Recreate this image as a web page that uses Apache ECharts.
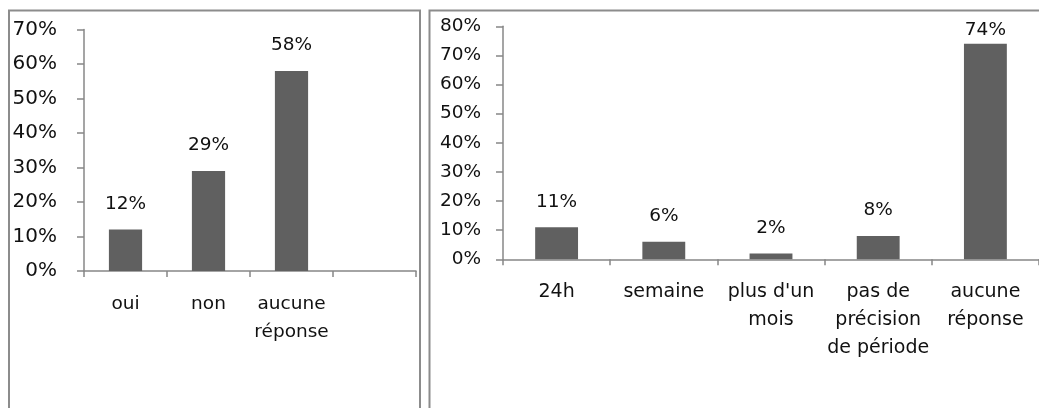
<!DOCTYPE html>
<html>
<head>
<meta charset="utf-8">
<script src="https://cdn.jsdelivr.net/npm/echarts@6/dist/echarts.min.js"></script>
<style>
  html, body { margin: 0; padding: 0; background: #fff; }
  #chart { width: 1039px; height: 408px; }
</style>
</head>
<body>
<div id="chart"></div>
<script>
// Réponses : oui / non / sans réponse
const categoriesReponse = ['oui', 'non', 'aucune\nréponse', ''];
const valeursReponse = [12, 29, 58, null];

// Délai indiqué
const categoriesDelai = ['24h', 'semaine', "plus d'un\nmois", 'pas de\nprécision\nde période', 'aucune\nréponse'];
const valeursDelai = [11, 6, 2, 8, 74];

// Y axis ranges (percent)
const maxReponse = 70;
const maxDelai = 80;
const pasAxe = 10;

const FONT = '"DejaVu Sans", sans-serif';
const AXIS_GRAY = '#878787';
const BAR_GRAY = '#606060';
const TEXT = '#111';

const chart = echarts.init(document.getElementById('chart'), null, { renderer: 'canvas' });

function pct(v) { return v + '%'; }

// Labels sit well above the bar unless that would push them out of the plot.
function barData(values, max) {
  return values.map(v => {
    if (v == null) return null;
    const close = v > max - 8;
    return { value: v, label: { distance: close ? 4 : 16 } };
  });
}

function xAxisCfg(gridIndex, cats, size) {
  return {
    type: 'category',
    gridIndex,
    data: cats,
    axisLine: { lineStyle: { color: AXIS_GRAY, width: 1.5 } },
    axisTick: { show: true, length: 6, lineStyle: { color: AXIS_GRAY, width: 1.5 } },
    axisLabel: {
      color: TEXT, fontFamily: FONT, fontSize: size, lineHeight: 28,
      margin: 19, interval: 0
    }
  };
}

function yAxisCfg(gridIndex, max, margin, size) {
  return {
    type: 'value',
    gridIndex,
    min: 0, max, interval: pasAxe,
    splitLine: { show: false },
    axisLine: { show: true, lineStyle: { color: AXIS_GRAY, width: 1.5 } },
    axisTick: { show: true, length: 7, lineStyle: { color: AXIS_GRAY, width: 1.5 } },
    axisLabel: {
      color: TEXT, fontFamily: FONT, fontSize: size, margin,
      formatter: pct
    }
  };
}

function barSeries(idx, values, max) {
  return {
    type: 'bar',
    xAxisIndex: idx, yAxisIndex: idx,
    data: barData(values, max),
    barWidth: '40%',
    itemStyle: { color: BAR_GRAY },
    label: {
      show: true, position: 'top', color: TEXT,
      fontFamily: FONT, fontSize: 18.5,
      formatter: p => pct(p.value)
    },
    animation: false
  };
}

chart.setOption({
  animation: false,
  backgroundColor: '#fff',
  graphic: [
    { type: 'rect', shape: { x: 9, y: 10.5, width: 411, height: 420 },
      style: { fill: 'none', stroke: '#8c8c8c', lineWidth: 2 }, silent: true },
    { type: 'rect', shape: { x: 429.5, y: 10.5, width: 700, height: 420 },
      style: { fill: 'none', stroke: '#8c8c8c', lineWidth: 2 }, silent: true }
  ],
  grid: [
    { left: 84, top: 29.5, width: 332, height: 241.5, containLabel: false },
    { left: 503, top: 26.3, width: 538, height: 233, containLabel: false }
  ],
  xAxis: [xAxisCfg(0, categoriesReponse, 18.5), xAxisCfg(1, categoriesDelai, 19)],
  yAxis: [yAxisCfg(0, maxReponse, 27, 20), yAxisCfg(1, maxDelai, 22, 18.5)],
  series: [barSeries(0, valeursReponse, maxReponse), barSeries(1, valeursDelai, maxDelai)]
});
</script>
</body>
</html>
